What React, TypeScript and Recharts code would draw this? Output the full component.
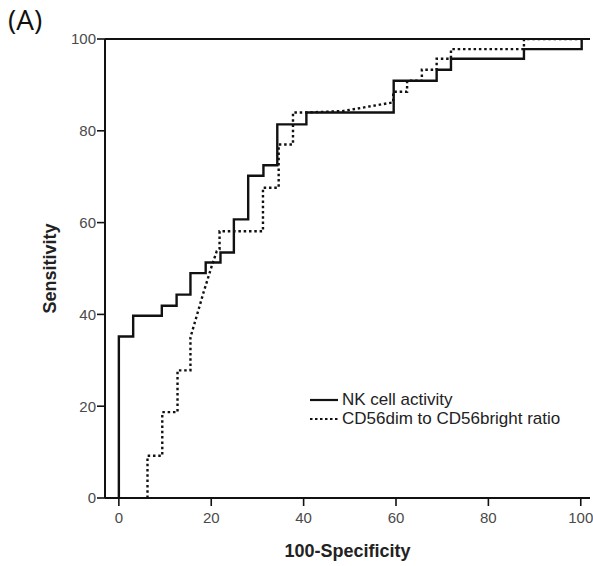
import { LineChart, Line, XAxis, YAxis, ReferenceLine } from "recharts"

// ROC curve for NK cell activity (100-specificity vs sensitivity)
const nkFpr = [0, 0, 3.1, 3.1, 9.3, 9.3, 12.5, 12.5, 15.5, 15.5, 18.8, 18.8, 22, 22, 24.9, 24.9, 28, 28, 31.3, 31.3, 34.3, 34.3, 40.6, 40.6, 59.5, 59.5, 68.8, 68.8, 71.9, 71.9, 87.7, 87.7, 100.2, 100.2]
const nkTpr = [0, 35.2, 35.2, 39.7, 39.7, 41.9, 41.9, 44.3, 44.3, 49, 49, 51.3, 51.3, 53.5, 53.5, 60.7, 60.7, 70.2, 70.2, 72.5, 72.5, 81.4, 81.4, 84, 84, 90.9, 90.9, 93.3, 93.3, 95.7, 95.7, 97.8, 97.8, 100]

// ROC curve for CD56dim to CD56bright ratio
const cdFpr = [6.2, 6.2, 9.4, 9.4, 12.7, 12.7, 15.5, 15.5, 18.4, 20.1, 21.2, 21.8, 21.8, 31.2, 31.2, 34.6, 34.6, 37.7, 37.7, 41, 48.5, 59.4, 59.4, 62.4, 62.4, 65.6, 65.6, 68.8, 68.8, 71.9, 71.9, 87.7, 87.7, 100]
const cdTpr = [0, 9.2, 9.2, 18.7, 18.7, 27.8, 27.8, 35, 45, 50.5, 53.8, 54.2, 58.1, 58.1, 67.6, 67.6, 77, 77, 84, 84, 84.3, 86.2, 88.5, 88.5, 90.9, 90.9, 93.3, 93.3, 95.7, 95.7, 97.8, 97.8, 100, 100]

const majorTicks = [0, 20, 40, 60, 80, 100]
const minorPerMajor = 6

const seriesNames = ["NK cell activity", "CD56dim to CD56bright ratio"]

const FONT = "'Liberation Sans', Arial, sans-serif"
const X_DOMAIN: [number, number] = [-3, 102]
const Y_DOMAIN: [number, number] = [0, 100]

const toPoints = (xs: number[], ys: number[]) => xs.map((x, i) => ({ x, y: ys[i] }))
const nkData = toPoints(nkFpr, nkTpr)
const cdData = toPoints(cdFpr, cdTpr)

// 5 minor ticks between each pair of major ticks
const minorTicks: number[] = []
majorTicks.forEach((t, i) => {
  if (i < majorTicks.length - 1) {
    const step = (majorTicks[i + 1] - t) / minorPerMajor
    for (let k = 1; k < minorPerMajor; k++) minorTicks.push(Math.round((t + step * k) * 1000) / 1000)
  }
})

const tickLineStyle = { stroke: "#111", strokeWidth: 1.6 }
const tickText = { fontSize: 15, fill: "#4a4a4a", fontFamily: FONT }
const titleStyle = { fontSize: 18, fontWeight: "bold", fill: "#222", fontFamily: FONT }

const LegendBox = () => (
  <div style={{ position: "absolute", left: 308, top: 390, fontFamily: FONT, fontSize: 17, color: "#222" }}>
    {seriesNames.map((name, i) => (
      <div key={name} style={{ display: "flex", alignItems: "center", height: 19 }}>
        <svg width={32} height={10}>
          <line x1={2} x2={30} y1={5} y2={5} stroke="#111" strokeWidth={2.2}
            strokeDasharray={i === 1 ? "2.5 2.5" : undefined} />
        </svg>
        <span style={{ marginLeft: 2, whiteSpace: "nowrap" }}>{name}</span>
      </div>
    ))}
  </div>
)

export default function App() {
  return (
    <div style={{ position: "absolute", left: 0, top: 0, width: 593, height: 566, background: "#fff" }}>
      <div style={{ position: "absolute", left: 8, top: 0, fontFamily: "'Open Sans', sans-serif", fontSize: 28, color: "#111" }}>
        (A)
      </div>
      <LineChart width={593} height={566} margin={{ top: 39, right: 3, bottom: 0, left: 0 }}>
        {/* minor tick axes: zero size, sit right on the plot edge */}
        <XAxis
          xAxisId="a"
          type="number"
          dataKey="x"
          domain={X_DOMAIN}
          ticks={minorTicks}
          interval={0}
          height={0}
          tickSize={5}
          tick={false}
          tickLine={tickLineStyle}
          axisLine={false}
          allowDataOverflow
        />
        <XAxis
          xAxisId="b"
          type="number"
          dataKey="x"
          domain={X_DOMAIN}
          ticks={majorTicks}
          interval={0}
          height={68}
          tickSize={8}
          tickMargin={6}
          tickLine={tickLineStyle}
          tick={tickText}
          axisLine={{ stroke: "#111", strokeWidth: 2 }}
          allowDataOverflow
          label={{ value: "100-Specificity", position: "insideBottom", offset: 9, style: titleStyle }}
        />
        <YAxis
          yAxisId="a"
          type="number"
          dataKey="y"
          domain={Y_DOMAIN}
          ticks={minorTicks}
          interval={0}
          width={0}
          tickSize={5}
          tick={false}
          tickLine={tickLineStyle}
          axisLine={false}
          allowDataOverflow
        />
        <YAxis
          yAxisId="b"
          type="number"
          dataKey="y"
          domain={Y_DOMAIN}
          ticks={majorTicks}
          interval={0}
          width={105}
          tickSize={8}
          tickMargin={1}
          tickLine={tickLineStyle}
          tick={tickText}
          axisLine={{ stroke: "#111", strokeWidth: 2 }}
          allowDataOverflow
          label={{ value: "Sensitivity", angle: -90, position: "insideLeft", offset: 50, style: { ...titleStyle, textAnchor: "middle" } }}
        />
        <ReferenceLine xAxisId="b" yAxisId="b" y={100} stroke="#111" strokeWidth={2} />
        <Line
          xAxisId="b"
          yAxisId="b"
          data={cdData}
          dataKey="y"
          name={seriesNames[1]}
          type="linear"
          stroke="#111"
          strokeWidth={2.4}
          strokeDasharray="2.5 2.8"
          dot={false}
          activeDot={false}
          isAnimationActive={false}
        />
        <Line
          xAxisId="b"
          yAxisId="b"
          data={nkData}
          dataKey="y"
          name={seriesNames[0]}
          type="linear"
          stroke="#111"
          strokeWidth={2.4}
          dot={false}
          activeDot={false}
          isAnimationActive={false}
        />
      </LineChart>
      <LegendBox />
    </div>
  )
}
